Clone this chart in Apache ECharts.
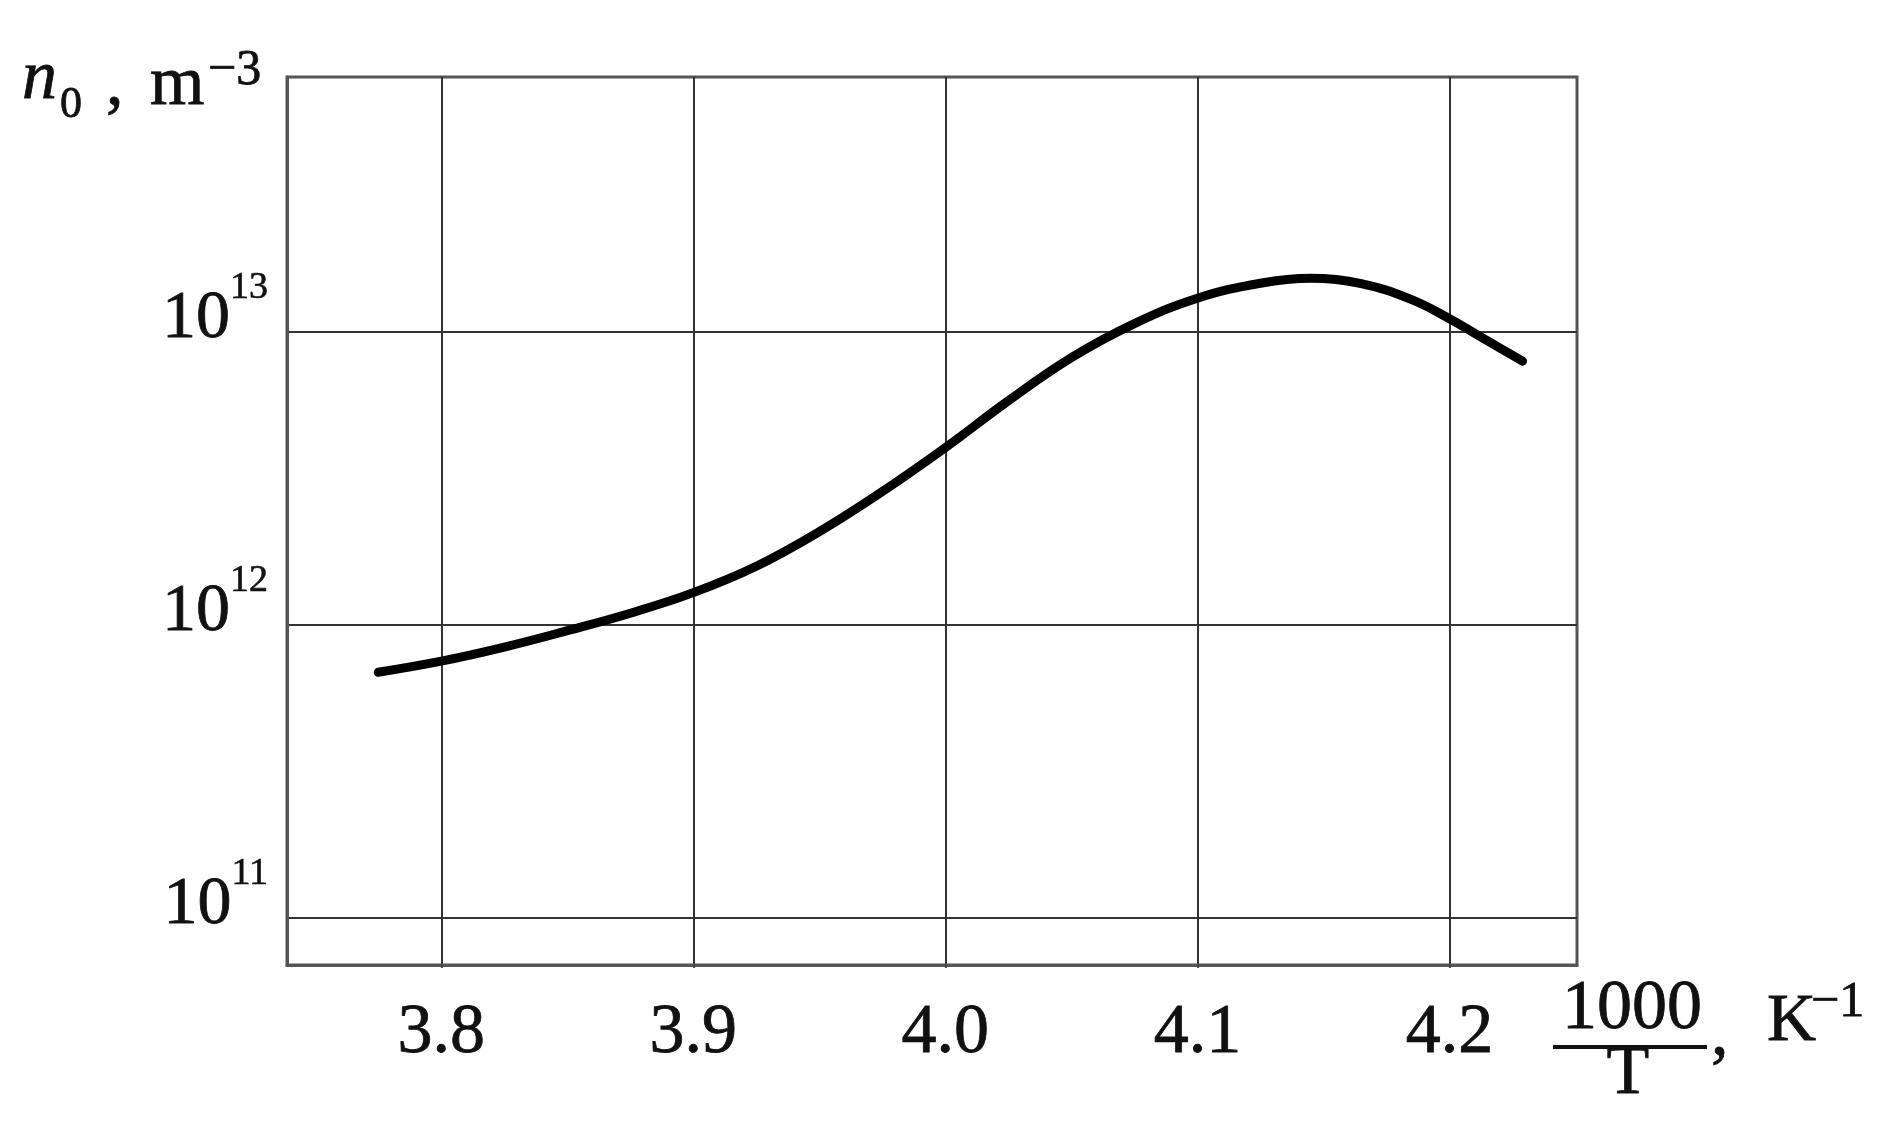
<!DOCTYPE html>
<html>
<head>
<meta charset="utf-8">
<script src="https://cdn.jsdelivr.net/npm/echarts@6/dist/echarts.min.js"></script>
<style>
html,body{margin:0;padding:0;background:#fff;}
#chart{width:1903px;height:1139px;}
</style>
</head>
<body>
<div id="chart"></div>
<script>
// x: 1000/T, K^-1
var invT = [3.775, 3.800, 3.825, 3.850, 3.875, 3.900, 3.925, 3.950, 3.975, 4.000,
            4.025, 4.050, 4.075, 4.100, 4.125, 4.145, 4.165, 4.185, 4.200, 4.215, 4.229];
// n0, m^-3
var n0 = [6.887e11, 7.516e11, 8.395e11, 9.550e11, 1.096e12, 1.288e12, 1.585e12, 2.080e12, 2.851e12, 4.027e12,
          5.821e12, 8.166e12, 1.067e13, 1.303e13, 1.466e13, 1.524e13, 1.462e13, 1.288e13, 1.109e13, 9.333e12, 7.943e12];
var xTicks = [3.8, 3.9, 4.0, 4.1, 4.2];
var yTickExps = [11, 12, 13];
var xRange = [3.7388, 4.2506];
var yExpRange = [10.839, 13.870];

var FONT = '"Liberation Serif", "DejaVu Serif", serif';
var TXT = '#111';

var seriesData = invT.map(function (x, i) { return [x, Math.log10(n0[i])]; });

var chart = echarts.init(document.getElementById('chart'), null, {renderer: 'canvas'});

function txt(left, y, text, size, extra) {
  var s = {
    text: text,
    x: left, y: y,
    font: (extra && extra.italic ? 'italic ' : '') + size + 'px ' + FONT,
    fill: TXT,
    stroke: TXT, lineWidth: 0.8,
    textAlign: (extra && extra.align) || 'left',
    textVerticalAlign: 'middle'
  };
  return {type: 'text', style: s, z: 10};
}

var option = {
  backgroundColor: '#ffffff',
  animation: false,
  grid: {
    left: 287, top: 77, right: 326, bottom: 174,
    show: true, borderColor: '#555', borderWidth: 3, backgroundColor: 'transparent',
    outerBoundsMode: 'none', containLabel: false
  },
  xAxis: {
    type: 'value', min: xRange[0], max: xRange[1],
    axisLine: {show: true, lineStyle: {color: '#555', width: 3}},
    axisTick: {show: true, length: 3, customValues: xTicks, lineStyle: {color: '#444', width: 2}},
    axisLabel: {
      customValues: xTicks, margin: 34,
      formatter: function (v) { return Number(v).toFixed(1); },
      fontFamily: FONT, fontSize: 70, color: TXT,
      textBorderColor: TXT, textBorderWidth: 0.8
    },
    splitLine: {show: true, lineStyle: {color: '#333', width: 2}}
  },
  yAxis: {
    type: 'value', min: yExpRange[0], max: yExpRange[1],
    axisLine: {show: true, lineStyle: {color: '#555', width: 3}},
    axisTick: {show: false, customValues: yTickExps},
    axisLabel: {
      customValues: yTickExps, margin: 19,
      formatter: function (v) { return '{b|10}{s|' + Math.round(v) + '}'; },
      padding: [0, 0, 26, 0],
      rich: {
        b: {fontFamily: FONT, fontSize: 68, color: TXT, lineHeight: 100, textBorderColor: TXT, textBorderWidth: 0.8},
        s: {fontFamily: FONT, fontSize: 38, color: TXT, lineHeight: 30, verticalAlign: 'top', textBorderColor: TXT, textBorderWidth: 0.6}
      }
    },
    splitLine: {show: true, lineStyle: {color: '#333', width: 2}}
  },
  series: [{
    type: 'line',
    data: seriesData,
    smooth: 0.4,
    showSymbol: false,
    lineStyle: {color: '#000', width: 9, cap: 'round', join: 'round'},
    z: 5
  }],
  graphic: [
    // y axis name: n0 , m^-3
    txt(22, 80, 'n', 70, {italic: true}),
    txt(60, 105, '0', 44),
    txt(106, 86, ',', 70),
    txt(150, 86, 'm', 70),
    txt(208, 71, '\u22123', 50),
    // x axis name: 1000/T, K^-1
    txt(1632, 1010, '1000', 70, {align: 'center'}),
    {type: 'line', shape: {x1: 1553, y1: 1047, x2: 1707, y2: 1047}, style: {stroke: TXT, lineWidth: 4}, z: 10},
    txt(1628, 1075, 'T', 70, {align: 'center'}),
    txt(1711, 1036, ',', 70),
    txt(1767, 1022, 'K', 68),
    txt(1811, 1003, '\u22121', 50)
  ]
};
chart.setOption(option);
</script>
</body>
</html>
